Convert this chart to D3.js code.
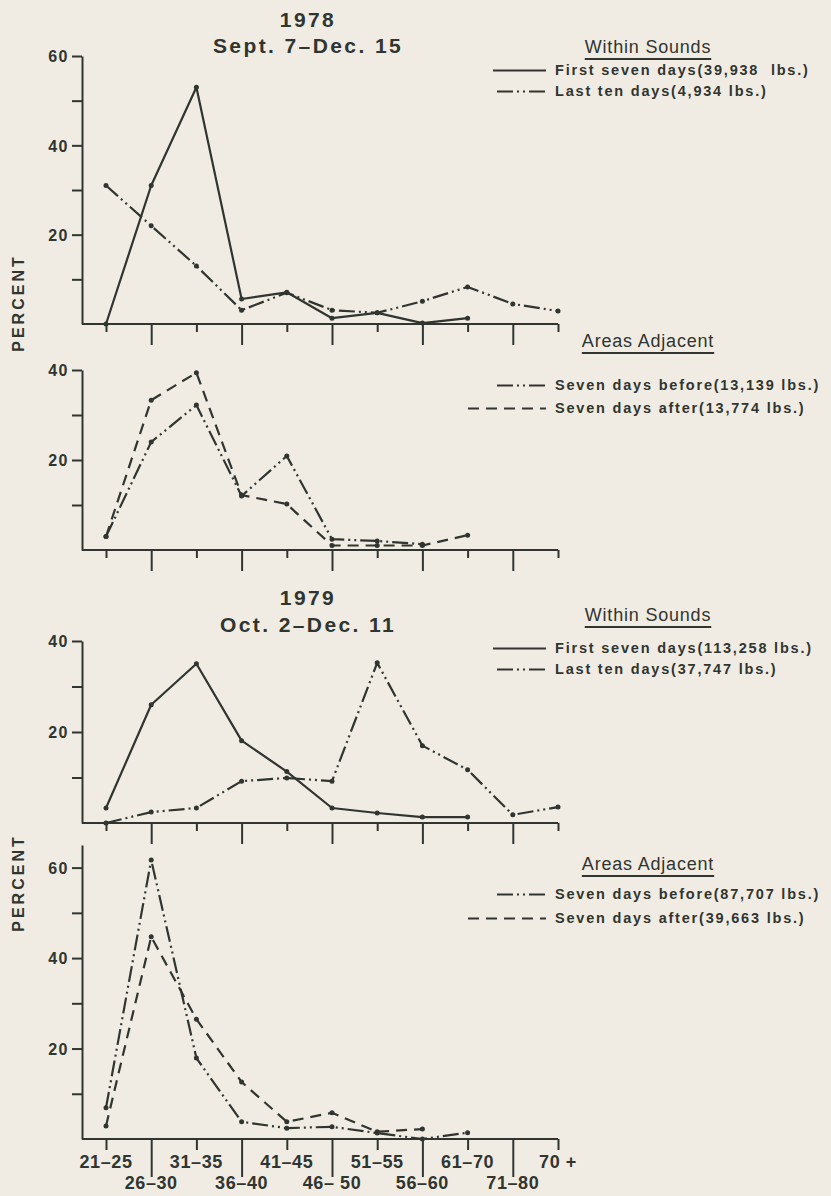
<!DOCTYPE html>
<html>
<head>
<meta charset="utf-8">
<script src="https://cdn.jsdelivr.net/npm/d3@7"></script>
<style>
  html, body { margin: 0; padding: 0; background: #f0ece4; }
  svg { display: block; font-family: "Liberation Sans", Arial, sans-serif; }
</style>
</head>
<body>
<div id="chart"></div>
<script>
// Size classes on the x axis (percent of catch by class)
const ageClasses = ["21–25", "26–30", "31–35", "36–40", "41–45", "46– 50",
                    "51–55", "56–60", "61–70", "71–80", "70 +"];

// 1978, within sounds
const within78First = [0, 31, 53, 5.6, 7.1, 1.3, 2.5, 0.2, 1.3, null, null];
const within78Last  = [31, 22, 13, 3.1, 7, 3.1, 2.5, 5.1, 8.3, 4.5, 2.9];
// 1978, areas adjacent
const adj78Before = [3, 24, 32.2, 12, 20.9, 2.4, 2, 1.3, null, null, null];
const adj78After  = [3, 33.3, 39.4, 12.2, 10.2, 1, 1, 1, 3.3, null, null];
// 1979, within sounds
const within79First = [3.3, 26, 35, 18.1, 11.3, 3.3, 2.2, 1.3, 1.3, null, null];
const within79Last  = [0, 2.4, 3.3, 9.2, 9.9, 9.2, 35.2, 17, 11.7, 1.8, 3.5];
// 1979, areas adjacent
const adj79Before = [6.9, 61.7, 17.9, 3.8, 2.4, 2.7, 1.3, 0, 1.4, null, null];
const adj79After  = [2.9, 44.7, 26.5, 12.6, 3.8, 5.8, 1.6, 2.2, null, null, null];

const W = 831, H = 1196;
const INK = "#30352f";
const FONT = "'Liberation Sans', Arial, sans-serif";

const STYLE = {
  solid:   {dash: null},
  dashdot: {dash: "16 4 2 4 2 4"},
  dashed:  {dash: "11 7"}
};

const svg = d3.select("#chart").append("svg")
  .attr("width", W).attr("height", H).attr("viewBox", `0 0 ${W} ${H}`);
svg.append("rect").attr("width", W).attr("height", H).attr("fill", "#f0ece4");

const AXIS_X = 82;
const x = d3.scalePoint().domain(ageClasses).range([106, 558]);

const panels = [
  {base: 324, yTop: 60, topPx: 56, ticks: [10, 20, 30, 40, 50, 60],
   series: [{values: within78First, style: "solid"}, {values: within78Last, style: "dashdot"}],
   legend: {title: "Within Sounds", titleY: 53, rows: [
     {text: "First seven days(39,938  lbs.)", style: "solid", y: 75},
     {text: "Last ten days(4,934 lbs.)", style: "dashdot", y: 96}]}},
  {base: 550, yTop: 40, topPx: 370, ticks: [10, 20, 30, 40],
   series: [{values: adj78Before, style: "dashdot"}, {values: adj78After, style: "dashed"}],
   legend: {title: "Areas Adjacent", titleY: 347, rows: [
     {text: "Seven days before(13,139 lbs.)", style: "dashdot", y: 390},
     {text: "Seven days after(13,774 lbs.)", style: "dashed", y: 413}]}},
  {base: 823, yTop: 40, topPx: 641, ticks: [10, 20, 30, 40],
   series: [{values: within79First, style: "solid"}, {values: within79Last, style: "dashdot"}],
   legend: {title: "Within Sounds", titleY: 621, rows: [
     {text: "First seven days(113,258 lbs.)", style: "solid", y: 653},
     {text: "Last ten days(37,747 lbs.)", style: "dashdot", y: 674}]}},
  {base: 1139, yTop: 65, topPx: 845, ticks: [10, 20, 30, 40, 50, 60], labels: true,
   series: [{values: adj79Before, style: "dashdot"}, {values: adj79After, style: "dashed"}],
   legend: {title: "Areas Adjacent", titleY: 870, rows: [
     {text: "Seven days before(87,707 lbs.)", style: "dashdot", y: 899},
     {text: "Seven days after(39,663 lbs.)", style: "dashed", y: 923}]}}
];

function drawPanel(p) {
  const g = svg.append("g");
  const y = d3.scaleLinear().domain([0, p.yTop]).range([p.base, p.topPx]);

  // y axis
  const ya = g.append("g").attr("transform", `translate(${AXIS_X},0)`)
    .call(d3.axisLeft(y).tickValues(p.ticks).tickSize(10).tickSizeOuter(0)
      .tickFormat(d => d % 20 === 0 ? d : ""));
  ya.selectAll("path, line").attr("stroke", INK).attr("stroke-width", 2);
  ya.selectAll("text").attr("fill", INK).attr("font-family", FONT)
    .attr("font-size", 16).attr("font-weight", "bold").attr("letter-spacing", 1.5)
    .attr("dy", "0.36em");

  // x axis
  const long = p.labels ? 38 : 21, short = p.labels ? 11 : 8;
  const xa = g.append("g").attr("transform", `translate(0,${p.base})`)
    .call(d3.axisBottom(x).tickSizeOuter(0).tickFormat(""));
  xa.select(".domain").remove();
  xa.selectAll(".tick line").attr("stroke", INK).attr("stroke-width", 2)
    .attr("y2", (d, i) => i % 2 ? long : short);
  g.append("line").attr("x1", AXIS_X).attr("x2", x.range()[1])
    .attr("y1", p.base).attr("y2", p.base).attr("stroke", INK).attr("stroke-width", 2);

  if (p.labels) {
    g.selectAll("text.xl").data(ageClasses).join("text").attr("class", "xl")
      .attr("x", d => x(d))
      .attr("y", (d, i) => p.base + (i % 2 ? 50 : 29))
      .attr("text-anchor", "middle").attr("fill", INK)
      .attr("font-size", 18).attr("font-weight", "bold").attr("letter-spacing", 0.6)
      .style("white-space", "pre")
      .text(d => d);
  }

  // series
  const line = d3.line().defined(d => d.v != null).x(d => x(d.c)).y(d => y(d.v));
  p.series.forEach(s => {
    const pts = s.values.map((v, i) => ({c: ageClasses[i], v}));
    g.append("path").datum(pts).attr("d", line).attr("fill", "none")
      .attr("stroke", INK).attr("stroke-width", 2.2).attr("stroke-linejoin", "round")
      .attr("stroke-dasharray", STYLE[s.style].dash);
    g.selectAll(null).data(pts.filter(d => d.v != null)).join("circle")
      .attr("cx", d => x(d.c)).attr("cy", d => y(d.v)).attr("r", 2.5).attr("fill", INK);
  });

  // legend
  const lg = p.legend;
  const head = g.append("text").attr("x", 648).attr("y", lg.titleY)
    .attr("text-anchor", "middle").attr("fill", INK)
    .attr("font-size", 18).attr("letter-spacing", 0.8).text(lg.title);
  const bb = head.node().getBBox();
  g.append("line").attr("x1", bb.x).attr("x2", bb.x + bb.width)
    .attr("y1", lg.titleY + 6).attr("y2", lg.titleY + 6)
    .attr("stroke", INK).attr("stroke-width", 2);
  lg.rows.forEach(r => {
    const x0 = r.style === "dashed" ? 468 : 493;
    g.append("line").attr("x1", x0).attr("x2", 546)
      .attr("y1", r.y - 4.5).attr("y2", r.y - 4.5)
      .attr("stroke", INK).attr("stroke-width", 2.2)
      .attr("stroke-dasharray", STYLE[r.style].dash)
      .attr("stroke-dashoffset", r.style === "dashdot" ? 28 : 0);
    g.append("text").attr("x", 555).attr("y", r.y).attr("fill", INK)
      .attr("font-size", 14.5).attr("font-weight", "bold").attr("letter-spacing", 1.8)
      .style("white-space", "pre")
      .text(r.text);
  });
}

panels.forEach(drawPanel);

// titles
const titles = [
  {text: "1978", y: 27}, {text: "Sept. 7–Dec. 15", y: 53},
  {text: "1979", y: 605}, {text: "Oct. 2–Dec. 11", y: 632}
];
svg.selectAll("text.title").data(titles).join("text").attr("class", "title")
  .attr("x", 308).attr("y", d => d.y).attr("text-anchor", "middle")
  .attr("fill", INK).attr("font-size", 21).attr("font-weight", "bold")
  .attr("letter-spacing", 2.4).text(d => d.text);

// y axis captions
[303, 883].forEach(cy => {
  svg.append("text").attr("transform", `translate(24,${cy}) rotate(-90)`)
    .attr("text-anchor", "middle").attr("fill", INK)
    .attr("font-size", 16).attr("font-weight", "bold").attr("letter-spacing", 3)
    .text("PERCENT");
});
</script>
</body>
</html>
